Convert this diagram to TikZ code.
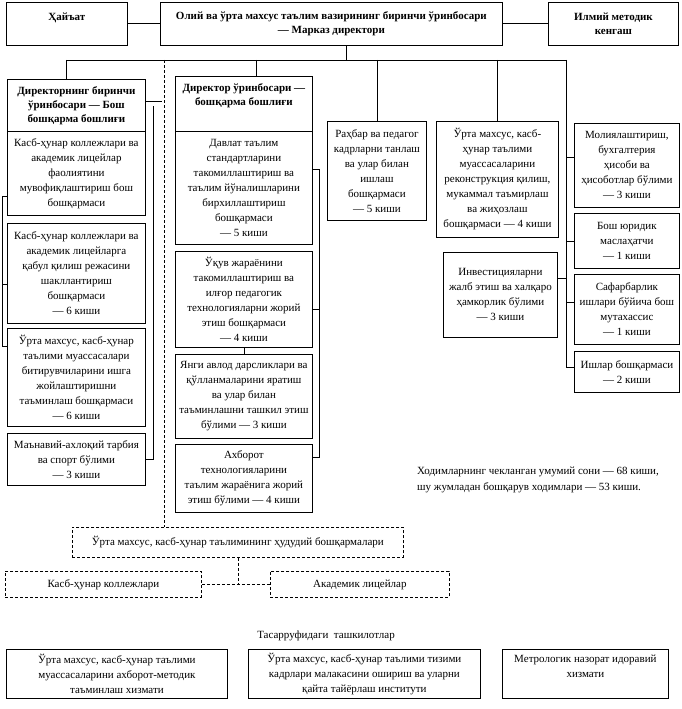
\documentclass[tikz,border=0pt]{standalone}
\usepackage{fontspec}
\setmainfont{Liberation Serif}
\begin{document}
\begin{tikzpicture}[x=1pt,y=-1pt,
  box/.style={draw, line width=0.8pt, inner sep=1pt, align=center, anchor=north west, font=\fontsize{11}{15}\selectfont},
  hbox/.style={box, font=\bfseries\fontsize{11}{14}\selectfont},
  dbox/.style={box, dash pattern=on 3pt off 2pt},
  conn/.style={line width=0.8pt},
  dconn/.style={line width=0.8pt, dash pattern=on 3pt off 2pt},
  plain/.style={inner sep=0pt, font=\fontsize{11}{16}\selectfont}]
\useasboundingbox (0,0) rectangle (682,709);
% top row
\node[hbox, minimum width=121, minimum height=43] (haiat) at (6,2) {\raisebox{15pt}{Ҳайъат}};
\node[hbox, minimum width=342, minimum height=43] (centr) at (160,2) {Олий ва ўрта махсус таълим вазирининг биринчи ўринбосари\\— Марказ директори};
\node[hbox, minimum width=130, minimum height=43] (ilmiy) at (548,2) {Илмий методик\\кенгаш};
% left column
\node[hbox, minimum width=138, minimum height=52] (lhead) at (7,79) {Директорнинг биринчи\\ўринбосари — Бош\\бошқарма бошлиғи};
\node[box, minimum width=138, minimum height=84] (l1) at (7,131) {Касб-ҳунар коллежлари ва\\академик лицейлар\\фаолиятини\\мувофиқлаштириш бош\\бошқармаси};
\node[box, minimum width=138, minimum height=100] (l2) at (7,223) {Касб-ҳунар коллежлари ва\\академик лицейларга\\қабул қилиш режасини\\шакллантириш\\бошқармаси\\— 6 киши};
\node[box, minimum width=138, minimum height=98] (l3) at (7,328) {Ўрта махсус, касб-ҳунар\\таълими муассасалари\\битирувчиларини  ишга\\жойлаштиришни\\таъминлаш бошқармаси\\— 6  киши};
\node[box, minimum width=138, minimum height=52] (l4) at (7,433) {Маънавий-ахлоқий тарбия\\ва спорт бўлими\\— 3 киши};
% director column
\node[hbox, minimum width=137, minimum height=55] (dhead) at (175,76) {Директор ўринбосари —\\бошқарма бошлиғи\\[4pt]};
\node[box, minimum width=137, minimum height=113] (d1) at (175,131) {Давлат таълим\\стандартларини\\такомиллаштириш ва\\таълим йўналишларини\\бирхиллаштириш\\бошқармаси\\— 5 киши};
\node[box, minimum width=137, minimum height=96] (d2) at (175,251) {Ўқув жараёнини\\такомиллаштириш ва\\илғор педагогик\\технологияларни  жорий\\этиш бошқармаси\\— 4 киши};
\node[box, minimum width=137, minimum height=84] (d3) at (175,354) {Янги авлод дарсликлари ва\\қўлланмаларини яратиш\\ва улар билан\\таъминлашни ташкил этиш\\бўлими — 3 киши};
\node[box, minimum width=137, minimum height=68] (d4) at (175,444) {Ахборот\\технологияларини\\таълим жараёнига жорий\\этиш бўлими — 4 киши};
% middle-right boxes
\node[box, minimum width=99, minimum height=99] (rah) at (327,121) {Раҳбар ва педагог\\кадрларни танлаш\\ва улар билан\\ишлаш\\бошқармаси\\— 5  киши};
\node[box, minimum width=122, minimum height=116] (urta) at (436,121) {Ўрта махсус, касб-\\ҳунар таълими\\муассасаларини\\реконструкция қилиш,\\мукаммал таъмирлаш\\ва жиҳозлаш\\бошқармаси — 4 киши};
\node[box, minimum width=114, minimum height=85] (inv) at (443,252) {Инвестицияларни\\жалб этиш ва халқаро\\ҳамкорлик бўлими\\— 3  киши};
% right column
\node[box, minimum width=105, minimum height=84] (mol) at (574,123) {Молиялаштириш,\\бухгалтерия\\ҳисоби ва\\ҳисоботлар бўлими\\— 3 киши};
\node[box, minimum width=105, minimum height=55] (yur) at (574,213) {Бош юридик\\маслаҳатчи\\— 1 киши};
\node[box, minimum width=105, minimum height=70] (saf) at (574,274) {Сафарбарлик\\ишлари бўйича бош\\мутахассис\\— 1 киши};
\node[box, minimum width=105, minimum height=41] (ish) at (574,351) {Ишлар бошқармаси\\— 2 киши};
% staff note
\node[plain, anchor=north west, align=left] (staff) at (417,467) {Ходимларнинг чекланган умумий сони — 68 киши,\\шу жумладан бошқарув ходимлари — 53 киши.};
% regional (dashed)
\node[dbox, minimum width=331, minimum height=30] (r1) at (72,527) {Ўрта махсус, касб-ҳунар таълимининг ҳудудий бошқармалари};
\node[dbox, minimum width=196, minimum height=26] (r2) at (5,571) {Касб-ҳунар коллежлари};
\node[dbox, minimum width=179, minimum height=26] (r3) at (270,571) {Академик лицейлар};
% subordinate organisations
\node[plain] (tas) at (326,636) {Тасарруфидаги~~ташкилотлар};
\node[box, minimum width=221, minimum height=49] (b1) at (6,649) {Ўрта махсус, касб-ҳунар таълими\\муассасаларини ахборот-методик\\таъминлаш хизмати};
\node[box, minimum width=232, minimum height=49] (b2) at (248,649) {Ўрта махсус, касб-ҳунар таълими тизими\\кадрлари малакасини ошириш ва уларни\\қайта тайёрлаш институти};
\node[box, minimum width=166, minimum height=49] (b3) at (502,649) {Метрологик назорат идоравий\\хизмати\\[1pt]};
% coordinates
\coordinate (bus) at (346,60);
\coordinate (hl) at (66,60);
\coordinate (hd) at (256,60);
\coordinate (dtop) at (164,60);
\coordinate (hr) at (566,60);
\coordinate (lx) at (2,0);
\coordinate (lb) at (153,106);
\coordinate (rx) at (319.5,0);
\coordinate (lhE) at ([yshift=4pt]lhead.east);
\coordinate (a1) at ([yshift=-23pt]l1.west);
\coordinate (a2) at ([yshift=-11pt]l2.west);
\coordinate (a3) at ([yshift=31pt]l3.west);
\coordinate (e1) at ([yshift=18.5pt]d1.east);
\coordinate (e2) at ([yshift=-10pt]d2.east);
\coordinate (e4) at ([yshift=21pt]d4.east);
\coordinate (molW) at ([yshift=8pt]mol.west);
\coordinate (safW) at ([yshift=7pt]saf.west);
\coordinate (ishW) at ([yshift=4.5pt]ish.west);
\coordinate (invE) at ([yshift=16.5pt]inv.east);
% connectors
\draw[conn] (haiat) -- (centr);
\draw[conn] (centr) -- (ilmiy);
\draw[conn] (bus |- centr.south) -- (bus);
\draw[conn] (hl) -- (hr);
\draw[conn] (hl) -- (hl |- lhead.north);
\draw[conn] (hd) -- (hd |- dhead.north);
\draw[conn] (rah.north |- hl) -- (rah.north);
\draw[conn] (urta.north |- hl) -- (urta.north);
\draw[conn] (hr) |- (ishW);
\draw[conn] (hr |- molW) -- (molW);
\draw[conn] (hr |- yur.west) -- (yur.west);
\draw[conn] (hr |- safW) -- (safW);
\draw[conn] (invE) -- (hr |- invE);
\draw[conn] (lhE) -- ([xshift=-5pt]lhE -| dtop);
\draw[conn] (lb) |- (l4.east);
\draw[conn] (a1) -- (a1 -| lx) |- (a3);
\draw[conn] (a2) -- (a2 -| lx);
\draw[conn] (e1) -- (e1 -| rx) |- (e4);
\draw[conn] (e2) -- (e2 -| rx);
\draw[conn] (d2) -- (d3);
\draw[dconn] (dtop) -- (dtop |- r1.north);
\draw[dconn] ([xshift=-5pt]lhE -| dtop) -- (lhE -| dtop);
\draw[dconn] (r1.south) -- (r1.south |- r2.east);
\draw[dconn] (r2.east) -- (r3.west);
\end{tikzpicture}
\end{document}
